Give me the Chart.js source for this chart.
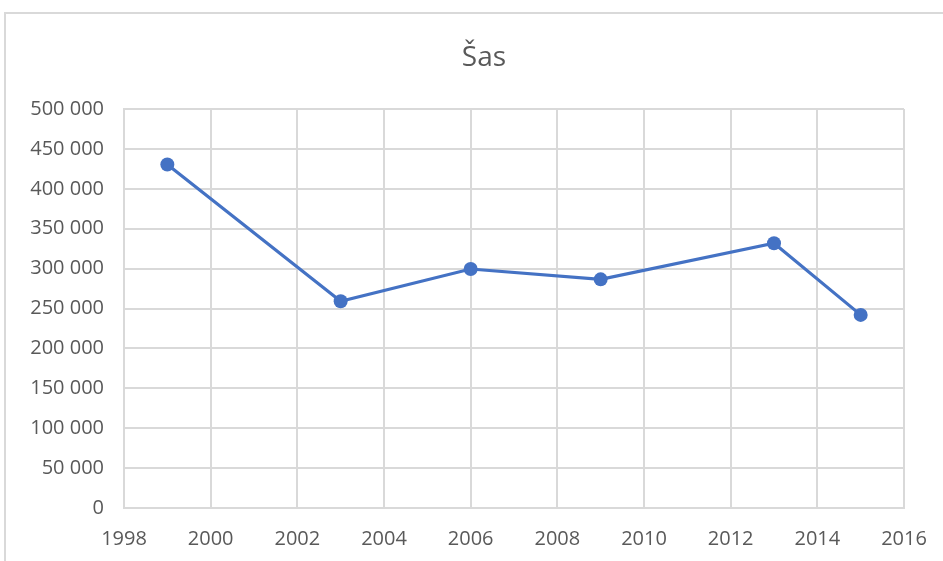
<!DOCTYPE html>
<html>
<head>
<meta charset="utf-8">
<script src="https://cdn.jsdelivr.net/npm/chart.js@4/dist/chart.umd.min.js"></script>
<style>
  html, body { margin: 0; padding: 0; background: #fff; overflow: hidden; }
  #frame { position: absolute; left: 4px; top: 12px; width: 960px; height: 580px; border: 2px solid #d9d9d9; box-sizing: border-box; }
  #wrap { position: absolute; left: 0; top: 0; width: 943px; height: 561px; }
</style>
</head>
<body>
<div id="frame"></div>
<div id="wrap"><canvas id="c" width="943" height="561"></canvas></div>
<script>
const chartTitle = "Šas";
const years = [1999, 2003, 2006, 2009, 2013, 2015];
const values = [430500, 259000, 299500, 286500, 331800, 242000];
const xTicks = [1998, 2000, 2002, 2004, 2006, 2008, 2010, 2012, 2014, 2016];
const yTicks = [0, 50000, 100000, 150000, 200000, 250000, 300000, 350000, 400000, 450000, 500000];

const FONT = '"Open Sans", sans-serif';
const fmt = v => String(v).replace(/\B(?=(\d{3})+(?!\d))/g, ' ');

// Title centred over the whole Excel-style chart frame (which extends past the page edge)
const titlePlugin = {
  id: 'frameTitle',
  afterDraw(chart) {
    const ctx = chart.ctx;
    ctx.save();
    ctx.fillStyle = '#595959';
    ctx.font = '28px ' + FONT;
    ctx.textAlign = 'center';
    ctx.textBaseline = 'middle';
    ctx.fillText(chartTitle, 484, 58);
    ctx.restore();
  }
};

new Chart(document.getElementById('c'), {
  type: 'line',
  data: {
    datasets: [{
      data: years.map((y, i) => ({ x: y, y: values[i] })),
      borderColor: '#4472C4',
      backgroundColor: '#4472C4',
      borderWidth: 3.2,
      pointRadius: 7,
      pointBorderWidth: 0,
      tension: 0
    }]
  },
  options: {
    responsive: false,
    animation: false,
    layout: { autoPadding: false, padding: { left: 0, right: 39, top: 109, bottom: 0 } },
    plugins: {
      legend: { display: false },
      tooltip: { enabled: false },
      title: { display: false }
    },
    scales: {
      x: {
        type: 'linear',
        min: xTicks[0],
        max: xTicks[xTicks.length - 1],
        afterBuildTicks: s => { s.ticks = xTicks.map(v => ({ value: v })); },
        afterFit: s => { s.height = 53; s.paddingRight = 30; s.paddingLeft = 30; },
        ticks: {
          callback: v => String(v),
          color: '#595959',
          font: { family: FONT, size: 20 },
          padding: 19,
          maxRotation: 0
        },
        grid: { color: '#d9d9d9', lineWidth: 2, drawTicks: false },
        border: { color: '#d9d9d9', width: 2 }
      },
      y: {
        min: yTicks[0],
        max: yTicks[yTicks.length - 1],
        afterBuildTicks: s => { s.ticks = yTicks.map(v => ({ value: v })); },
        afterFit: s => { s.width = 124; },
        ticks: {
          callback: v => fmt(v),
          color: '#595959',
          font: { family: FONT, size: 20 },
          padding: 20
        },
        grid: { color: '#d9d9d9', lineWidth: 2, drawTicks: false },
        border: { color: '#d9d9d9', width: 2 }
      }
    }
  },
  plugins: [titlePlugin]
});
</script>
</body>
</html>
